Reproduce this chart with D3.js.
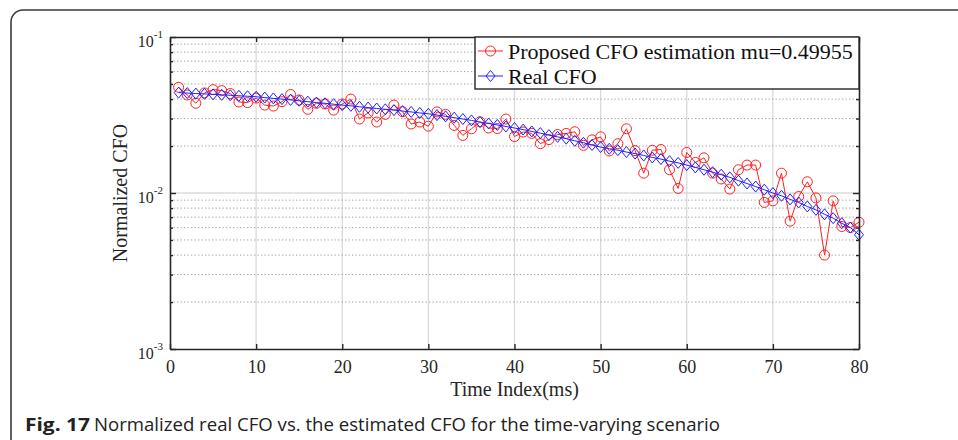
<!DOCTYPE html>
<html>
<head>
<meta charset="utf-8">
<script src="https://d3js.org/d3.v7.min.js"></script>
<style>
  html, body { margin: 0; padding: 0; background: #fff; }
  svg { display: block; }
  .serif { font-family: "Liberation Serif", "Times New Roman", serif; fill: #262626; }
</style>
</head>
<body>
<svg id="chart" width="958" height="440"></svg>
<script>
// time index 1..80 (ms)
const timeIndex = d3.range(1, 81);

// red: proposed CFO estimation
const estCFO = [
  0.0476, 0.0425, 0.0376, 0.0438, 0.0460, 0.0453, 0.0434, 0.0383, 0.0380, 0.0406,
  0.0366, 0.0361, 0.0385, 0.0428, 0.0395, 0.0344, 0.0376, 0.0372, 0.0340, 0.0372,
  0.0400, 0.0298, 0.0326, 0.0285, 0.0319, 0.0366, 0.0332, 0.0277, 0.0285, 0.0268,
  0.0331, 0.0319, 0.0271, 0.0234, 0.0258, 0.0286, 0.0261, 0.0259, 0.0298, 0.0230,
  0.0246, 0.0241, 0.0207, 0.0220, 0.0237, 0.0241, 0.0247, 0.0202, 0.0219, 0.0229,
  0.0186, 0.0207, 0.0258, 0.0187, 0.0134, 0.0188, 0.0190, 0.0141, 0.0107, 0.0182,
  0.0157, 0.0168, 0.0134, 0.0123, 0.0106, 0.0141, 0.0151, 0.0151, 0.0087, 0.0089,
  0.0134, 0.0066, 0.0095, 0.0118, 0.0093, 0.0040, 0.0089, 0.0061, 0.0060, 0.0065
];

// blue: real CFO
const realCFO = [
  0.0440, 0.0437, 0.0434, 0.0432, 0.0429, 0.0426, 0.0423, 0.0420, 0.0417, 0.0414,
  0.0409, 0.0404, 0.0400, 0.0395, 0.0390, 0.0385, 0.0380, 0.0376, 0.0371, 0.0366,
  0.0362, 0.0357, 0.0353, 0.0348, 0.0344, 0.0340, 0.0335, 0.0331, 0.0326, 0.0322,
  0.0316, 0.0310, 0.0304, 0.0298, 0.0292, 0.0285, 0.0279, 0.0273, 0.0267, 0.0261,
  0.0255, 0.0248, 0.0242, 0.0235, 0.0229, 0.0223, 0.0216, 0.0210, 0.0203, 0.0197,
  0.0192, 0.0188, 0.0183, 0.0179, 0.0174, 0.0169, 0.0165, 0.0160, 0.0156, 0.0151,
  0.0146, 0.0141, 0.0136, 0.0131, 0.0126, 0.0120, 0.0115, 0.0110, 0.0105, 0.0100,
  0.0096, 0.0091, 0.0087, 0.0082, 0.0078, 0.0073, 0.0069, 0.0064, 0.0060, 0.0054
];

const xTicks = [0, 10, 20, 30, 40, 50, 60, 70, 80];
const yExponents = [-3, -2, -1];
const legendLabels = ["Proposed CFO estimation mu=0.49955", "Real CFO"];
const xLabel = "Time Index(ms)";
const yLabel = "Normalized CFO";
const captionBold = "Fig. 17";
const captionText = "Normalized real CFO vs. the estimated CFO for the time-varying scenario";

const svg = d3.select("#chart");
const axisColor = "#262626";
const red = "#ff2020", blue = "#2020ff";

const pLeft = 170, pRight = 859, pTop = 37, pBottom = 349;

const x = d3.scaleLinear().domain([0, 80]).range([pLeft, pRight]);
const y = d3.scaleLog().domain([1e-3, 1e-1]).range([pBottom, pTop]);

// outer frame (rounded corner, runs off to the right and bottom)
svg.append("path")
  .attr("d", "M11,440 L11,22 A12,12 0 0 1 23,10 L958,10")
  .attr("fill", "none")
  .attr("stroke", "#3a3a3a")
  .attr("stroke-width", 1.6);

// minor values between decades
let minorVals = [];
[-3, -2].forEach(e => {
  for (let m = 2; m <= 9; m++) minorVals.push(m * Math.pow(10, e));
});
const majorVals = yExponents.map(e => Math.pow(10, e));

// grid
const grid = svg.append("g");
grid.selectAll("line.vg")
  .data(xTicks.filter(d => d > 0 && d < 80))
  .join("line")
  .attr("x1", d => x(d)).attr("x2", d => x(d))
  .attr("y1", pTop).attr("y2", pBottom)
  .attr("stroke", "#dadada").attr("stroke-width", 1.3);

grid.selectAll("line.hm")
  .data(minorVals)
  .join("line")
  .attr("x1", pLeft).attr("x2", pRight)
  .attr("y1", d => y(d)).attr("y2", d => y(d))
  .attr("stroke", "#a0a0a0").attr("stroke-width", 1)
  .attr("stroke-dasharray", "1.3,2.2");

grid.append("line")
  .attr("x1", pLeft).attr("x2", pRight)
  .attr("y1", y(1e-2)).attr("y2", y(1e-2))
  .attr("stroke", "#dadada").attr("stroke-width", 1.3);

// series
const pts = (arr) => timeIndex.map((t, i) => [t, arr[i]]);
const line = d3.line().x(d => x(d[0])).y(d => y(d[1]));

svg.append("path")
  .attr("d", line(pts(estCFO)))
  .attr("fill", "none").attr("stroke", red).attr("stroke-width", 1);

svg.append("g").selectAll("circle")
  .data(pts(estCFO))
  .join("circle")
  .attr("cx", d => x(d[0])).attr("cy", d => y(d[1]))
  .attr("r", 5)
  .attr("fill", "none").attr("stroke", red).attr("stroke-width", 1);

svg.append("path")
  .attr("d", line(pts(realCFO)))
  .attr("fill", "none").attr("stroke", blue).attr("stroke-width", 1);

const diamond = (cx, cy) => `M${cx},${cy - 5.5}L${cx + 4.5},${cy}L${cx},${cy + 5.5}L${cx - 4.5},${cy}Z`;

svg.append("g").selectAll("path")
  .data(pts(realCFO))
  .join("path")
  .attr("d", d => diamond(x(d[0]), y(d[1])))
  .attr("fill", "none").attr("stroke", blue).attr("stroke-width", 1);

// axes (ticks pointing inward, box on)
const axG = svg.append("g");

axG.append("g")
  .attr("transform", `translate(0,${pBottom})`)
  .call(d3.axisBottom(x).tickValues(xTicks).tickSize(-5).tickSizeOuter(0).tickPadding(11))
  .call(g => g.selectAll("text")
    .attr("class", "serif").attr("font-size", 18).style("fill", axisColor));

axG.append("g")
  .attr("transform", `translate(0,${pTop})`)
  .call(d3.axisTop(x).tickValues(xTicks).tickSize(-5).tickSizeOuter(0).tickFormat(""));

axG.append("g")
  .attr("transform", `translate(${pLeft},0)`)
  .call(d3.axisLeft(y).tickValues(majorVals).tickSize(-6).tickSizeOuter(0).tickFormat(""));
axG.append("g")
  .attr("transform", `translate(${pLeft},0)`)
  .call(d3.axisLeft(y).tickValues(minorVals).tickSize(-3).tickSizeOuter(0).tickFormat(""))
  .call(g => g.select(".domain").remove());

axG.append("g")
  .attr("transform", `translate(${pRight},0)`)
  .call(d3.axisRight(y).tickValues(majorVals).tickSize(-6).tickSizeOuter(0).tickFormat(""));
axG.append("g")
  .attr("transform", `translate(${pRight},0)`)
  .call(d3.axisRight(y).tickValues(minorVals).tickSize(-3).tickSizeOuter(0).tickFormat(""))
  .call(g => g.select(".domain").remove());

axG.selectAll("path.domain, .tick line")
  .attr("stroke", axisColor).attr("stroke-width", 1.4);
axG.selectAll(".domain").attr("stroke-width", 1.6);

// y tick labels 10^e
const yLab = svg.append("g");
yExponents.forEach(e => {
  const t = yLab.append("text")
    .attr("class", "serif")
    .attr("x", pLeft - 7)
    .attr("y", y(Math.pow(10, e)) + 10)
    .attr("text-anchor", "end")
    .attr("font-size", 16);
  t.append("tspan").text("10");
  t.append("tspan").attr("font-size", 11).attr("dy", -9).text(String(e));
});

// axis titles
svg.append("text")
  .attr("class", "serif")
  .attr("x", (pLeft + pRight) / 2)
  .attr("y", 396)
  .attr("text-anchor", "middle")
  .attr("font-size", 20)
  .text(xLabel);

svg.append("text")
  .attr("class", "serif")
  .attr("transform", `translate(127,${(pTop + pBottom) / 2}) rotate(-90)`)
  .attr("text-anchor", "middle")
  .attr("font-size", 20)
  .text(yLabel);

// legend
const lg = svg.append("g");
lg.append("rect")
  .attr("x", 475).attr("y", pTop)
  .attr("width", pRight - 475).attr("height", 52)
  .attr("fill", "#fff").attr("stroke", axisColor).attr("stroke-width", 1.4);

const rowY = [51, 76];
legendLabels.forEach((lab, i) => {
  const col = i === 0 ? red : blue;
  lg.append("line")
    .attr("x1", 478).attr("x2", 503)
    .attr("y1", rowY[i]).attr("y2", rowY[i])
    .attr("stroke", col).attr("stroke-width", 1);
  if (i === 0) {
    lg.append("circle").attr("cx", 490.5).attr("cy", rowY[i]).attr("r", 5)
      .attr("fill", "none").attr("stroke", col);
  } else {
    lg.append("path").attr("d", diamond(490.5, rowY[i]))
      .attr("fill", "none").attr("stroke", col);
  }
  lg.append("text")
    .attr("class", "serif")
    .attr("x", 508).attr("y", rowY[i] + 7.5)
    .attr("font-size", 22)
    .style("fill", "#111")
    .text(lab);
});

// caption
svg.append("text")
  .attr("x", 25).attr("y", 431)
  .attr("font-family", "'Open Sans', 'Noto Sans', sans-serif")
  .attr("font-weight", "bold")
  .attr("font-size", 18)
  .attr("fill", "#222")
  .attr("textLength", 65)
  .attr("lengthAdjust", "spacingAndGlyphs")
  .text(captionBold);

svg.append("text")
  .attr("x", 94).attr("y", 431)
  .attr("font-family", "'Open Sans', 'Noto Sans', sans-serif")
  .attr("font-size", 18)
  .attr("fill", "#222")
  .attr("textLength", 626)
  .attr("lengthAdjust", "spacingAndGlyphs")
  .text(captionText);
</script>
</body>
</html>
